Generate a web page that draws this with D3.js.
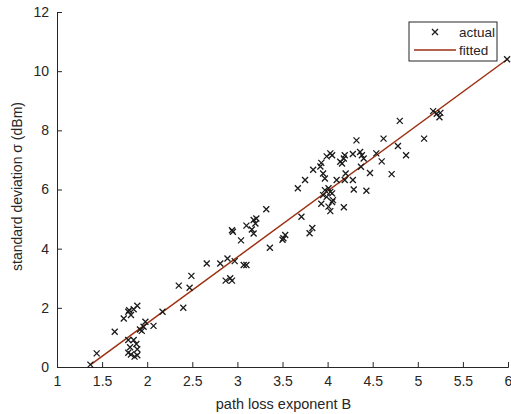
<!doctype html>
<html lang="en">
<head>
  <meta charset="utf-8">
  <title>sigma vs B</title>
  <script src="https://d3js.org/d3.v7.min.js"></script>
  <style>
    body { margin: 0; background: #fff; }
    text { font-family: "Liberation Sans", Arial, sans-serif; fill: #262626; }
  </style>
</head>
<body>
<svg id="chart" width="511" height="414"></svg>
<script>
// measured points (path loss exponent B, std deviation sigma)
var actualB = [1.37, 1.44, 1.64, 1.74, 1.79, 1.82, 1.80, 1.85, 1.89, 1.79, 1.85, 1.81, 1.79, 1.82,
  1.86, 1.89, 1.89, 1.88, 1.92, 1.94, 1.96, 1.98, 2.07, 2.17, 2.35, 2.40, 2.47, 2.49, 2.66, 2.81,
  2.89, 2.87, 2.92, 2.94, 2.97, 2.94, 2.95, 3.04, 3.07, 3.10, 3.10, 3.18, 3.20, 3.16, 3.18, 3.21,
  3.32, 3.36, 3.51, 3.53, 3.50, 3.67, 3.71, 3.75, 3.80, 3.83, 3.84, 3.92, 3.93, 3.99, 4.03, 4.05,
  3.93, 4.01, 4.03, 4.05, 4.18, 4.01, 3.97, 4.03, 3.95, 3.99, 4.06, 4.05, 3.95, 3.97, 4.10, 4.14,
  4.16, 4.18, 4.19, 4.28, 4.36, 4.38, 4.40, 4.37, 4.19, 4.20, 4.28, 4.29, 4.43, 4.47, 4.54, 4.60,
  4.32, 4.62, 4.71, 4.78, 4.87, 4.80, 5.07, 5.17, 5.21, 5.24, 5.25, 5.99];
var actualSigma = [0.08, 0.46, 1.19, 1.64, 1.87, 1.76, 1.92, 1.95, 2.07, 0.91, 0.91, 0.67, 0.48, 0.42,
  0.35, 0.60, 0.40, 0.78, 1.27, 1.22, 1.36, 1.53, 1.39, 1.87, 2.75, 2.00, 2.68, 3.08, 3.50, 3.50,
  3.67, 2.92, 3.00, 2.92, 3.58, 4.62, 4.57, 4.28, 3.45, 3.45, 4.78, 4.97, 4.85, 4.65, 4.51, 5.02,
  5.33, 4.03, 4.35, 4.46, 4.30, 6.04, 5.08, 6.32, 4.52, 4.70, 6.67, 6.78, 6.90, 7.12, 7.22, 7.16,
  5.52, 5.42, 5.27, 5.58, 5.40, 6.04, 5.98, 5.92, 5.81, 5.75, 5.64, 5.87, 6.54, 6.37, 6.32, 6.94,
  6.88, 7.05, 7.16, 7.20, 7.27, 7.16, 7.05, 6.77, 6.32, 6.54, 6.32, 6.00, 5.96, 6.56, 7.22, 6.95,
  7.66, 7.72, 6.52, 7.47, 7.16, 8.32, 7.72, 8.65, 8.56, 8.44, 8.59, 10.40];

// linear fit endpoints
var fitB = [1.37, 6.0];
var fitSigma = [0.07, 10.42];

var xTicks = [1, 1.5, 2, 2.5, 3, 3.5, 4, 4.5, 5, 5.5, 6];
var yTicks = [0, 2, 4, 6, 8, 10, 12];

var svg = d3.select("#chart");
var plotL = 57, plotR = 508, plotT = 12, plotB = 367;
var lineColor = "#9c2f10";

var x = d3.scaleLinear().domain([1, 6]).range([plotL, plotR]);
var y = d3.scaleLinear().domain([0, 12]).range([plotB, plotT]);

// axes, ticks pointing inward like matlab
var xAxis = d3.axisBottom(x).tickValues(xTicks).tickSize(-5).tickPadding(9)
  .tickFormat(function(d) { return d3.format("")(d); });
var yAxis = d3.axisLeft(y).tickValues(yTicks).tickSize(-5).tickPadding(8);

var gx = svg.append("g").attr("transform", "translate(0," + plotB + ")").call(xAxis);
var gy = svg.append("g").attr("transform", "translate(" + plotL + ",0)").call(yAxis);
[gx, gy].forEach(function(g) {
  g.select(".domain").attr("stroke", "#262626");
  g.selectAll(".tick line").attr("stroke", "#262626");
  g.selectAll(".tick text").style("font-size", "14px").attr("fill", "#262626");
});

// axis titles
svg.append("text").attr("x", (plotL + plotR) / 2 + 1).attr("y", 409)
  .attr("text-anchor", "middle").style("font-size", "14.5px").text("path loss exponent B");
svg.append("text").attr("transform", "translate(22," + ((plotT + plotB) / 2 - 3) + ") rotate(-90)")
  .attr("text-anchor", "middle").style("font-size", "14px").text("standard deviation σ (dBm)");

// fitted line
var fitData = fitB.map(function(b, i) { return [b, fitSigma[i]]; });
svg.append("path").datum(fitData)
  .attr("d", d3.line().x(function(d) { return x(d[0]); }).y(function(d) { return y(d[1]); }))
  .attr("stroke", lineColor).attr("stroke-width", 1.5).attr("fill", "none");

// x markers
var cross = "M-3,-3L3,3M-3,3L3,-3";
var pts = actualB.map(function(b, i) { return [b, actualSigma[i]]; });
svg.append("g").selectAll("path").data(pts).enter().append("path")
  .attr("transform", function(d) { return "translate(" + x(d[0]) + "," + y(d[1]) + ")"; })
  .attr("d", cross).attr("stroke", "#1a1a1a").attr("stroke-width", 1.3).attr("fill", "none");

// legend
var lg = svg.append("g").attr("transform", "translate(409,22)");
lg.append("rect").attr("width", 88).attr("height", 39)
  .attr("fill", "#fff").attr("stroke", "#262626").attr("stroke-width", 1);
lg.append("path").attr("transform", "translate(26,10)").attr("d", cross)
  .attr("stroke", "#1a1a1a").attr("stroke-width", 1.3);
lg.append("line").attr("x1", 5).attr("x2", 47).attr("y1", 28).attr("y2", 28)
  .attr("stroke", lineColor).attr("stroke-width", 1.5);
lg.append("text").attr("x", 50).attr("y", 15).style("font-size", "13.5px").text("actual");
lg.append("text").attr("x", 50).attr("y", 33).style("font-size", "13.5px").text("fitted");
</script>
</body>
</html>
